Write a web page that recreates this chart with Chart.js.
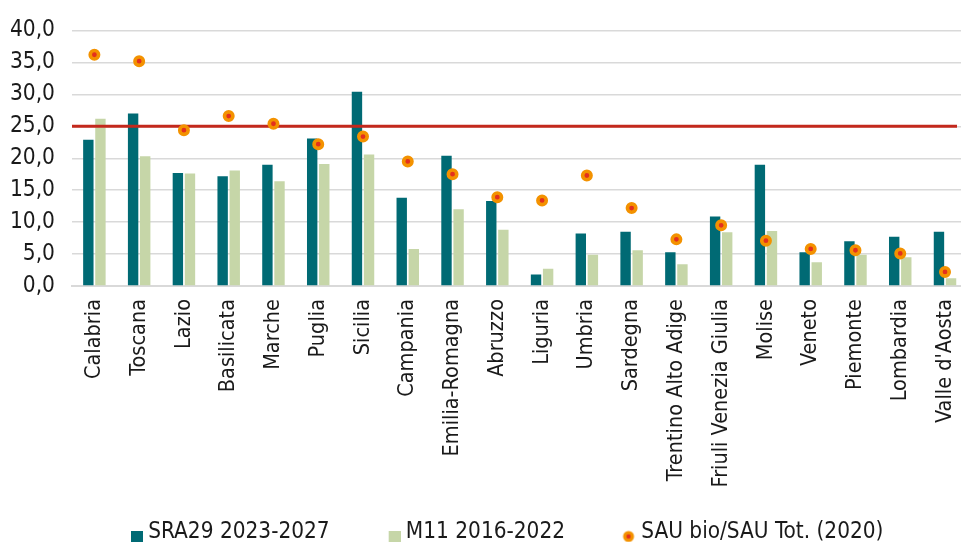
<!DOCTYPE html>
<html>
<head>
<meta charset="utf-8">
<script src="https://cdn.jsdelivr.net/npm/chart.js@4.4.1/dist/chart.umd.min.js"></script>
<style>
  html, body { margin: 0; padding: 0; background: #fff; }
  #wrap { width: 961px; height: 542px; overflow: hidden; position: relative; }
  #wrap canvas { position: absolute; left: 0; top: 0; }
</style>
</head>
<body>
<div id="wrap"><canvas id="myChart" width="976" height="554"></canvas></div>
<script>
const categorie = [
  "Calabria", "Toscana", "Lazio", "Basilicata", "Marche", "Puglia", "Sicilia",
  "Campania", "Emilia-Romagna", "Abruzzo", "Liguria", "Umbria", "Sardegna",
  "Trentino Alto Adige", "Friuli Venezia Giulia", "Molise", "Veneto",
  "Piemonte", "Lombardia", "Valle d'Aosta"
];
const sra29 = [22.9, 27.0, 17.7, 17.2, 19.0, 23.1, 30.4, 13.8, 20.4, 13.3, 1.8, 8.2, 8.5, 5.3, 10.9, 19.0, 5.3, 7.0, 7.7, 8.5];
const m11 = [26.2, 20.3, 17.6, 18.1, 16.4, 19.1, 20.6, 5.8, 12.0, 8.8, 2.7, 4.9, 5.6, 3.4, 8.4, 8.6, 3.7, 4.9, 4.5, 1.2];
const sauBio = [36.2, 35.2, 24.4, 26.6, 25.4, 22.2, 23.4, 19.5, 17.5, 13.9, 13.4, 17.3, 12.2, 7.3, 9.5, 7.1, 5.8, 5.6, 5.1, 2.2];
const soglia = 25;
const yMin = 0;
const yMax = 40;
const yStep = 5;

const FONT = "'DejaVu Sans Condensed', 'Liberation Sans Narrow', sans-serif";
const TEXT = "#1a1a1a";
const TEAL = "#006a74";
const GREEN = "#c6d6a8";
const ORANGE = "#f39200";
const RED = "#e3301e";
const LEGEND_SIZE = 22.4;
const LEGEND_PAD = 64;

// legend icons (small canvases used as point styles)
const iconRect = (color) => {
  const c = document.createElement("canvas");
  c.width = 13; c.height = 26;
  const g = c.getContext("2d");
  g.fillStyle = color;
  g.fillRect(1, 12, 12, 14);
  return c;
};
const iconDot = () => {
  const c = document.createElement("canvas");
  c.width = 18; c.height = 21;
  const g = c.getContext("2d");
  g.fillStyle = ORANGE;
  g.beginPath(); g.arc(8, 15, 5.5, 0, Math.PI * 2); g.fill();
  g.fillStyle = RED;
  g.beginPath(); g.arc(8, 15, 2.2, 0, Math.PI * 2); g.fill();
  return c;
};
const icons = [iconRect(TEAL), iconRect(GREEN), iconDot()];

// red reference line at 25, drawn between the bars and the dots
const sogliaLine = {
  id: "sogliaLine",
  beforeDatasetDraw(chart, args) {
    if (args.index !== 2) return;
    const { ctx, chartArea, scales } = chart;
    const y = scales.y.getPixelForValue(soglia);
    const xEnd = scales.x.getPixelForValue(categorie.length - 1) + 12;
    ctx.save();
    ctx.strokeStyle = "#c3281c";
    ctx.lineWidth = 3;
    ctx.beginPath();
    ctx.moveTo(chartArea.left, y);
    ctx.lineTo(xEnd, y);
    ctx.stroke();
    ctx.restore();
  }
};

// place the legend row like the original (left-ish, at the very bottom)
const legendPlace = {
  id: "legendPlace",
  afterLayout(chart) {
    const lg = chart.legend;
    lg.left = 72;
    lg.top = 532 - LEGEND_PAD - LEGEND_SIZE / 2;
  }
};

const ctx = document.getElementById("myChart").getContext("2d");
new Chart(ctx, {
  type: "bar",
  data: {
    labels: categorie,
    datasets: [
      {
        label: "SRA29 2023-2027",
        data: sra29,
        backgroundColor: TEAL,
        categoryPercentage: 0.54,
        barPercentage: 0.86,
        order: 1
      },
      {
        label: "M11 2016-2022",
        data: m11,
        backgroundColor: GREEN,
        categoryPercentage: 0.54,
        barPercentage: 0.86,
        order: 1
      },
      {
        type: "line",
        label: "SAU bio/SAU Tot. (2020)",
        data: sauBio,
        showLine: false,
        pointRadius: 4.2,
        pointHoverRadius: 4.2,
        pointBorderWidth: 3.6,
        pointBackgroundColor: RED,
        pointBorderColor: ORANGE,
        backgroundColor: RED,
        borderColor: ORANGE,
        order: 0
      }
    ]
  },
  options: {
    responsive: false,
    animation: false,
    devicePixelRatio: 1,
    layout: { padding: { left: 0, top: 26, right: 0, bottom: 0 } },
    plugins: {
      tooltip: { enabled: false },
      legend: {
        position: "bottom",
        align: "start",
        maxHeight: 40,
        labels: {
          usePointStyle: true,
          boxWidth: 1,
          boxHeight: 12,
          padding: LEGEND_PAD,
          color: TEXT,
          font: { family: FONT, size: LEGEND_SIZE },
          generateLabels: (chart) => chart.data.datasets.map((ds, i) => ({
            text: ds.label,
            pointStyle: icons[i],
            datasetIndex: i,
            hidden: false,
            lineWidth: 0,
            fillStyle: ds.backgroundColor,
            strokeStyle: "transparent",
            fontColor: TEXT
          }))
        }
      }
    },
    scales: {
      x: {
        grid: { display: false },
        border: { display: true, color: "#d9d9d9", width: 2 },
        ticks: {
          autoSkip: false,
          minRotation: 90,
          maxRotation: 90,
          padding: 5,
          color: TEXT,
          font: { family: FONT, size: 21.5 }
        },
        afterFit: (scale) => { scale.height = 228; }
      },
      y: {
        min: yMin,
        max: yMax,
        grid: { color: "#d9d9d9", lineWidth: 1.5, drawTicks: false },
        border: { display: false },
        ticks: {
          stepSize: yStep,
          padding: 17,
          color: TEXT,
          font: { family: FONT, size: 22.5 },
          callback: (v) => v.toFixed(1).replace(".", ",")
        },
        afterFit: (scale) => { scale.width = 72; }
      }
    }
  },
  plugins: [sogliaLine, legendPlace]
});
</script>
</body>
</html>
